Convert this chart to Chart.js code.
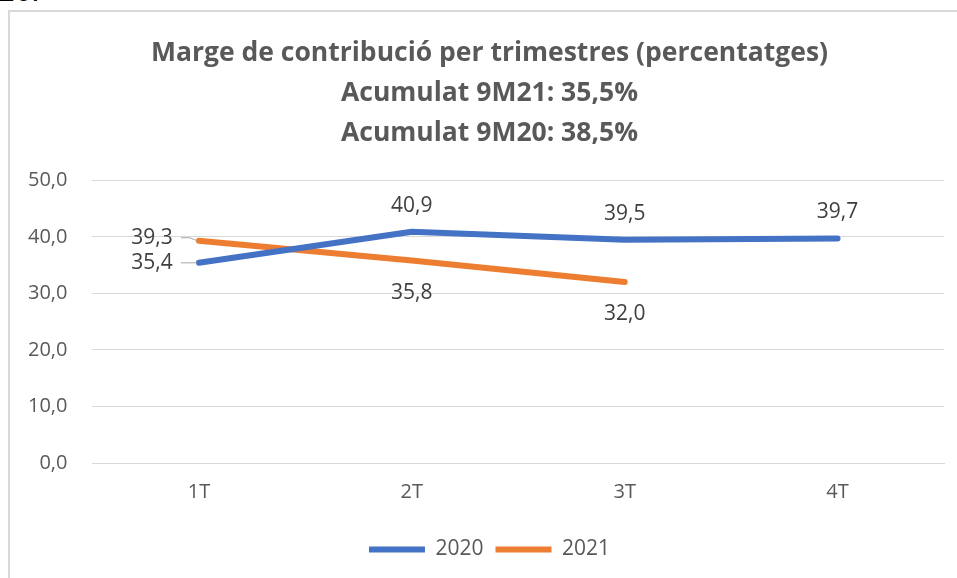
<!DOCTYPE html>
<html>
<head>
    <meta charset="UTF-8">
    <title>margeChart</title>
    <script src="https://cdn.jsdelivr.net/npm/chart.js"></script>
    <style>
        html, body { margin: 0; padding: 0; background: #fff; overflow: hidden; width: 957px; height: 578px; }
        .top-text { position: absolute; left: -2px; top: -26px; font: 30px "Liberation Sans", sans-serif; color: #000; }
        .frame { position: absolute; left: 8px; top: 10px; width: 962px; height: 600px; border-left: 2px solid #d9d9d9; border-top: 2px solid #d9d9d9; }
        .wrap { position: absolute; left: 10px; top: 12px; width: 960px; height: 566px; }
    </style>
</head>
<body>
    <div class="top-text">26.</div>
    <div class="frame"></div>
    <div class="wrap">
        <canvas id="margeChart" width="960" height="566"></canvas>
    </div>

    <script>
        var trimestres = ['1T', '2T', '3T', '4T'];
        var valors2020 = [35.4, 40.9, 39.5, 39.7];
        var valors2021 = [39.3, 35.8, 32.0, null];
        var titol = [
            'Marge de contribució per trimestres (percentatges)',
            'Acumulat 9M21: 35,5%',
            'Acumulat 9M20: 38,5%'
        ];

        var fontName = '"Open Sans", sans-serif';
        var grey = '#595959';

        function fmt(v) {
            return v.toFixed(1).replace('.', ',');
        }

        // el gràfic original és més ample que la captura: centrem títol i llegenda com allà
        var centrat = {
            id: 'centrat',
            afterLayout: function(chart) {
                if (chart.titleBlock) {
                    chart.titleBlock.left += 16;
                    chart.titleBlock.right += 16;
                }
                if (chart.legend) {
                    chart.legend.left += 16;
                    chart.legend.right += 16;
                }
            }
        };

        // etiquetes de dades a l'estil Excel
        var etiquetes = {
            id: 'etiquetes',
            afterDatasetsDraw: function(chart) {
                var ctx = chart.ctx;
                ctx.save();
                ctx.font = '21px ' + fontName;
                ctx.fillStyle = '#404040';
                ctx.textBaseline = 'middle';
                chart.data.datasets.forEach(function(ds, di) {
                    var meta = chart.getDatasetMeta(di);
                    meta.data.forEach(function(pt, i) {
                        var v = ds.data[i];
                        if (v === null || v === undefined) return;
                        var txt = fmt(v);
                        ctx.textAlign = 'center';
                        if (i === 0) {
                            // a l'esquerra amb línia guia
                            var lx = pt.x - 47;
                            var ly = di === 0 ? pt.y : pt.y - 3;
                            ctx.fillText(txt, lx, ly);
                            ctx.strokeStyle = '#a6a6a6';
                            ctx.lineWidth = 1;
                            ctx.beginPath();
                            ctx.moveTo(lx + 29, ly);
                            ctx.lineTo(lx + 38, ly);
                            ctx.lineTo(pt.x - 2, pt.y);
                            ctx.stroke();
                        } else if (di === 0) {
                            ctx.fillText(txt, pt.x, pt.y - 26);
                        } else {
                            ctx.fillText(txt, pt.x, pt.y + 32);
                        }
                    });
                });
                ctx.restore();
            }
        };

        var ctx = document.getElementById('margeChart').getContext('2d');
        var margeChart = new Chart(ctx, {
            type: 'line',
            data: {
                labels: trimestres,
                datasets: [{
                    label: '2020',
                    data: valors2020,
                    borderColor: '#4472C4',
                    backgroundColor: '#4472C4',
                    borderWidth: 6,
                    borderCapStyle: 'round',
                    borderJoinStyle: 'round',
                    pointRadius: 0,
                    tension: 0
                }, {
                    label: '2021',
                    data: valors2021,
                    borderColor: '#ED7D31',
                    backgroundColor: '#ED7D31',
                    borderWidth: 6,
                    borderCapStyle: 'round',
                    borderJoinStyle: 'round',
                    pointRadius: 0,
                    tension: 0
                }]
            },
            plugins: [centrat, etiquetes],
            options: {
                responsive: false,
                animation: false,
                layout: { padding: { left: -7, right: 26, top: 0, bottom: 8 } },
                plugins: {
                    title: {
                        display: true,
                        text: titol,
                        color: grey,
                        font: { family: fontName, size: 26.5, weight: 'bold', lineHeight: 1.5 },
                        padding: { top: 22, bottom: 27 }
                    },
                    legend: {
                        position: 'bottom',
                        labels: {
                            usePointStyle: true,
                            pointStyle: 'line',
                            pointStyleWidth: 56,
                            boxWidth: 56,
                            color: grey,
                            font: { family: fontName, size: 21 },
                            padding: 12
                        }
                    },
                    tooltip: { enabled: false }
                },
                scales: {
                    x: {
                        offset: true,
                        grid: { display: false, drawTicks: false },
                        border: { display: true, color: '#d9d9d9', width: 1 },
                        ticks: { color: grey, font: { family: fontName, size: 20 }, padding: 17 },
                        afterFit: function(axis) { axis.height += 6; }
                    },
                    y: {
                        min: 0,
                        max: 50,
                        grid: { color: '#d9d9d9', lineWidth: 1, drawTicks: false },
                        border: { display: false },
                        ticks: {
                            stepSize: 10,
                            color: grey,
                            font: { family: fontName, size: 20 },
                            padding: 25,
                            callback: function(v) { return fmt(v); }
                        }
                    }
                }
            }
        });
    </script>
</body>
</html>
